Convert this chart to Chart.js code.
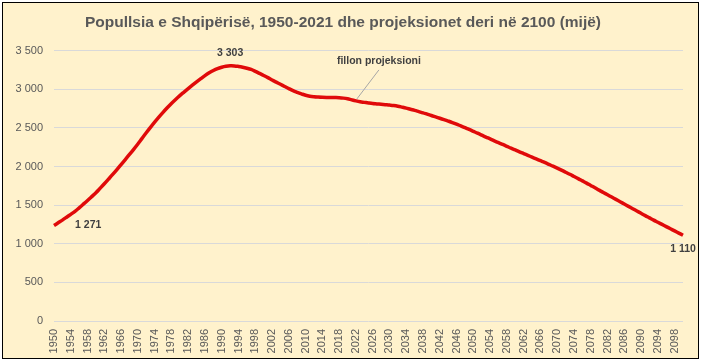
<!DOCTYPE html>
<html><head><meta charset="utf-8">
<script src="https://cdn.jsdelivr.net/npm/chart.js@4.4.1/dist/chart.umd.min.js"></script>
<style>
html,body{margin:0;padding:0;background:#fff;}
#box{position:absolute;left:2px;top:2px;width:695px;height:355px;border:1px solid #000;background:#FFF2CC;}
canvas{display:block;}
</style></head>
<body>
<div id="box"><canvas id="c" width="695" height="355"></canvas></div>
<script>
const titleText = "Popullsia e Shqipërisë, 1950-2021 dhe projeksionet deri në 2100 (mijë)";
const years = [];
for (let y = 1950; y <= 2100; y++) years.push(String(y));
const population = [
1236,1271,1306,1343,1381,1420,1465,1512,1560,1610,
1661,1718,1776,1836,1897,1960,2025,2090,2156,2222,
2291,2364,2436,2506,2574,2639,2701,2760,2816,2868,
2917,2963,3008,3052,3095,3136,3176,3212,3243,3268,
3285,3297,3303,3302,3295,3285,3272,3256,3232,3205,
3178,3150,3120,3092,3064,3036,3008,2982,2960,2940,
2922,2910,2903,2899,2896,2894,2893,2892,2890,2885,
2876,2862,2849,2838,2830,2822,2815,2810,2805,2800,
2795,2789,2780,2768,2755,2740,2726,2710,2694,2677,
2660,2642,2624,2606,2588,2569,2548,2525,2502,2479,
2455,2431,2406,2381,2357,2332,2308,2285,2261,2237,
2214,2190,2167,2144,2121,2098,2075,2052,2028,2004,
1979,1953,1926,1899,1871,1843,1814,1785,1755,1725,
1694,1664,1634,1604,1574,1544,1514,1484,1454,1424,
1394,1364,1335,1306,1278,1250,1222,1194,1166,1138,
1110];
const tickYears = years.filter(y => (Number(y) - 1950) % 4 === 0);
const labelledYears = ["1951", "1992", "2100"];
const projectionYear = "2022";
const projectionText = "fillon projeksioni";

const FONT = "'Liberation Sans', Arial, sans-serif";
const fmt = v => String(Math.round(v)).replace(/\B(?=(\d{3})+(?!\d))/g, " ");

const labelOffsets = { "1951": [30, 2], "1992": [0, -13], "2100": [0, 14] };

const annotPlugin = {
  id: 'annot',
  afterDatasetsDraw(chart) {
    const ctx = chart.ctx;
    const meta = chart.getDatasetMeta(0);
    ctx.save();
    ctx.font = "bold 10.5px " + FONT;
    ctx.fillStyle = "#404040";
    ctx.textAlign = "center";
    ctx.textBaseline = "middle";
    labelledYears.forEach(y => {
      const i = years.indexOf(y);
      const p = meta.data[i];
      const o = labelOffsets[y];
      ctx.fillText(fmt(population[i]), p.x + o[0], p.y + o[1]);
    });
    const j = years.indexOf(projectionYear);
    const q = meta.data[j];
    ctx.strokeStyle = "#A6A6A6";
    ctx.lineWidth = 1;
    ctx.beginPath();
    ctx.moveTo(q.x + 1, q.y - 2);
    ctx.lineTo(q.x + 23, q.y - 31);
    ctx.stroke();
    ctx.fillText(projectionText, q.x + 23, q.y - 40);
    ctx.restore();
  }
};

new Chart(document.getElementById('c'), {
  type: 'line',
  data: {
    labels: years,
    datasets: [{
      data: population,
      borderColor: '#E00A0A',
      borderWidth: 3.5,
      pointRadius: 0,
      tension: 0.4,
      fill: false
    }]
  },
  options: {
    responsive: false,
    animation: false,
    devicePixelRatio: 1,
    layout: { padding: { left: 0, right: 15, top: 0, bottom: 0 } },
    plugins: {
      legend: { display: false },
      tooltip: { enabled: false },
      title: {
        display: true,
        text: titleText,
        color: '#595959',
        font: { family: FONT, size: 15.5, weight: 'bold' },
        padding: { top: 10, bottom: 19 }
      }
    },
    scales: {
      x: {
        type: 'category',
        grid: { display: false, drawTicks: false },
        border: { display: false },
        ticks: {
          autoSkip: false,
          minRotation: 90,
          maxRotation: 90,
          padding: 8,
          color: '#595959',
          font: { family: FONT, size: 11 },
          callback: function(v, i) { const y = years[i]; return tickYears.includes(y) ? y : null; }
        },
        afterFit: s => { s.height = 37; }
      },
      y: {
        min: 0, max: 3500,
        grid: { color: '#D9D9D9', lineWidth: 1, drawTicks: false },
        border: { display: false },
        ticks: {
          stepSize: 500,
          padding: 11,
          color: '#595959',
          font: { family: FONT, size: 11 },
          callback: v => fmt(v)
        },
        afterFit: s => { s.width = 51; }
      }
    }
  },
  plugins: [annotPlugin]
});
</script>
</body></html>
